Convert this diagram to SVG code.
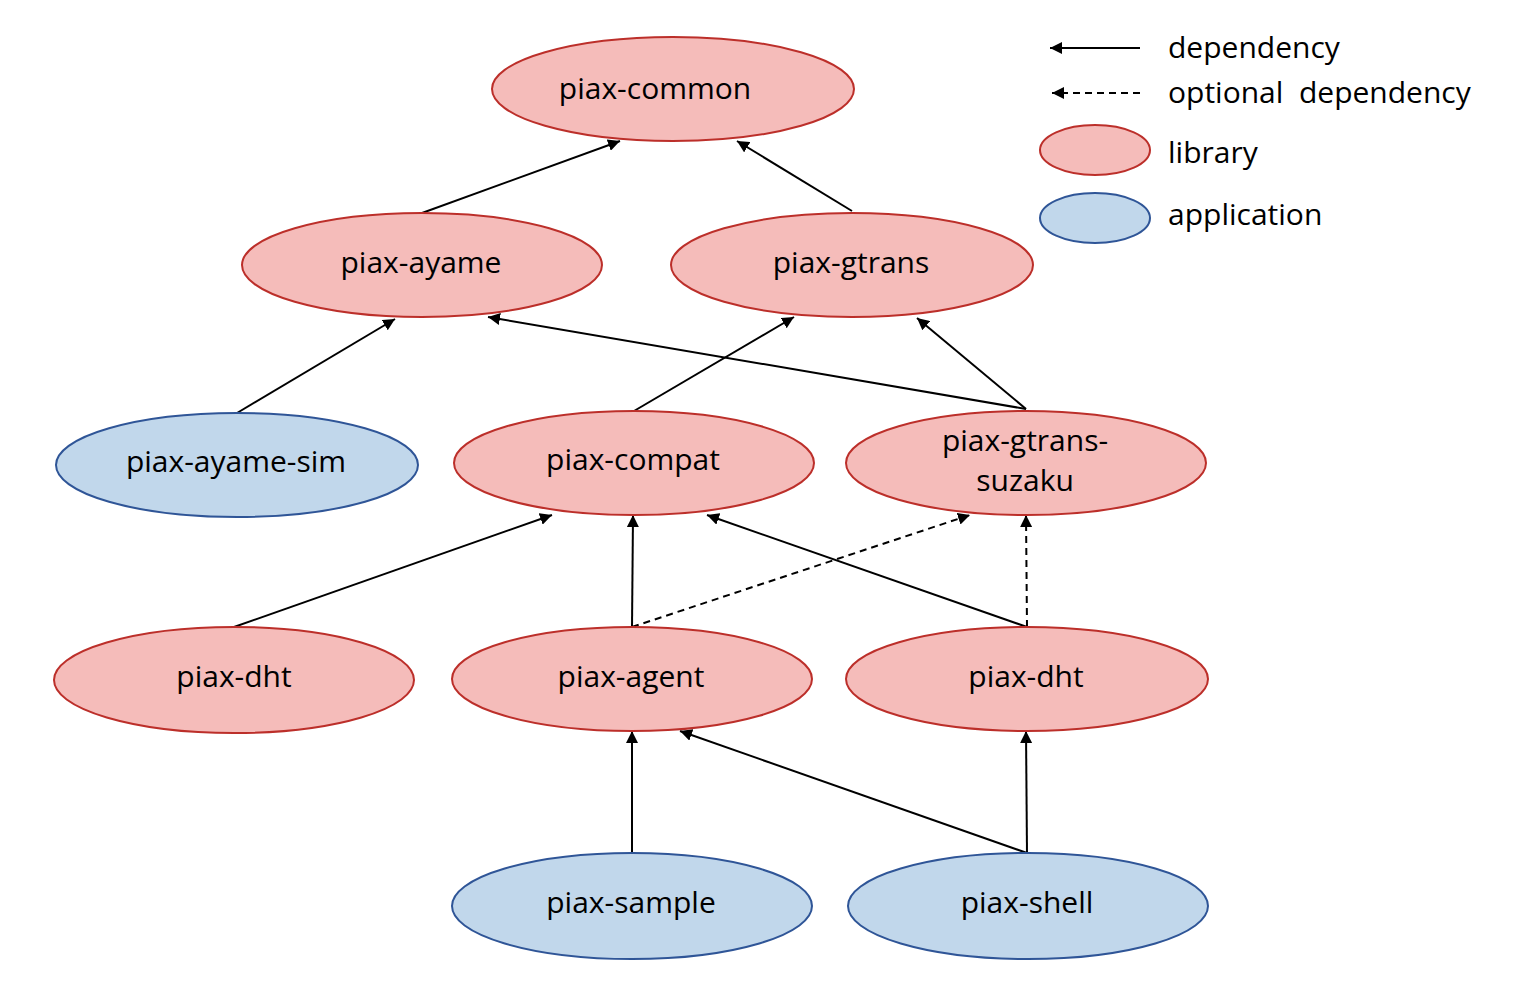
<svg xmlns="http://www.w3.org/2000/svg" width="1532" height="998" viewBox="0 0 1532 998">
<style>
.lib{fill:#F5BCBA;stroke:#BC2F2A;stroke-width:2}
.app{fill:#C1D7EB;stroke:#2F5597;stroke-width:2}
.lbl{font-family:"Open Sans","Liberation Sans",sans-serif;font-size:30px;fill:#000;text-anchor:middle}
.leg{font-family:"Open Sans","Liberation Sans",sans-serif;font-size:30px;fill:#000;white-space:pre}
.e{stroke:#000;stroke-width:2;fill:none;marker-end:url(#ah)}
.d{stroke-dasharray:7 5}
</style>
<defs>
<marker id="ah" viewBox="0 0 10 10" refX="10" refY="5" markerWidth="6" markerHeight="6" orient="auto" markerUnits="strokeWidth">
<path d="M0,0 L10,5 L0,10 z" fill="#000"/>
</marker>
</defs>
<rect width="1532" height="998" fill="#fff"/>
<g id="connectors">
<line class="e" x1="422" y1="213" x2="620" y2="141"/>
<line class="e" x1="852" y1="211" x2="737" y2="141"/>
<line class="e" x1="237" y1="413" x2="395" y2="319"/>
<line class="e" x1="634" y1="411" x2="794" y2="317"/>
<line class="e" x1="1026" y1="409" x2="488" y2="317"/>
<line class="e" x1="1026" y1="409" x2="917" y2="318"/>
<line class="e" x1="234" y1="627" x2="552" y2="515"/>
<line class="e" x1="632" y1="627" x2="633" y2="515"/>
<line class="e d" x1="632" y1="627" x2="970" y2="515"/>
<line class="e" x1="1027" y1="627" x2="707" y2="515"/>
<line class="e d" x1="1027" y1="627" x2="1026" y2="515"/>
<line class="e" x1="632" y1="853" x2="632" y2="731"/>
<line class="e" x1="1027" y1="853" x2="680" y2="731"/>
<line class="e" x1="1027" y1="853" x2="1026" y2="731"/>
</g>
<g id="piax-common"><ellipse class="lib" cx="673" cy="89" rx="181" ry="52"/><text class="lbl" x="655" y="99">piax-common</text></g>
<g id="piax-ayame"><ellipse class="lib" cx="422" cy="265" rx="180" ry="52"/><text class="lbl" x="421" y="273">piax-ayame</text></g>
<g id="piax-gtrans"><ellipse class="lib" cx="852" cy="265" rx="181" ry="52"/><text class="lbl" x="851" y="273">piax-gtrans</text></g>
<g id="piax-ayame-sim"><ellipse class="app" cx="237" cy="465" rx="181" ry="52"/><text class="lbl" x="236" y="472">piax-ayame-sim</text></g>
<g id="piax-compat"><ellipse class="lib" cx="634" cy="463" rx="180" ry="52"/><text class="lbl" x="633" y="470">piax-compat</text></g>
<g id="piax-gtrans-suzaku"><ellipse class="lib" cx="1026" cy="463" rx="180" ry="52"/><text class="lbl" x="1025" y="451">piax-gtrans-</text><text class="lbl" x="1025" y="491">suzaku</text></g>
<g id="piax-dht-1"><ellipse class="lib" cx="234" cy="680" rx="180" ry="53"/><text class="lbl" x="234" y="687">piax-dht</text></g>
<g id="piax-agent"><ellipse class="lib" cx="632" cy="679" rx="180" ry="52"/><text class="lbl" x="631" y="687">piax-agent</text></g>
<g id="piax-dht-2"><ellipse class="lib" cx="1027" cy="679" rx="181" ry="52"/><text class="lbl" x="1026" y="687">piax-dht</text></g>
<g id="piax-sample"><ellipse class="app" cx="632" cy="906" rx="180" ry="53"/><text class="lbl" x="631" y="913">piax-sample</text></g>
<g id="piax-shell"><ellipse class="app" cx="1028" cy="906" rx="180" ry="53"/><text class="lbl" x="1027" y="913">piax-shell</text></g>
<g id="legend">
<line class="e" x1="1140" y1="48" x2="1050" y2="48"/>
<line class="e d" x1="1140" y1="93" x2="1052" y2="93"/>
<ellipse class="lib" cx="1095" cy="150" rx="55" ry="25"/>
<ellipse class="app" cx="1095" cy="218" rx="55" ry="25"/>
<text class="leg" x="1168" y="58">dependency</text>
<text class="leg" x="1168" y="103" xml:space="preserve">optional  dependency</text>
<text class="leg" x="1168" y="163">library</text>
<text class="leg" x="1168" y="225">application</text>
</g>
</svg>
